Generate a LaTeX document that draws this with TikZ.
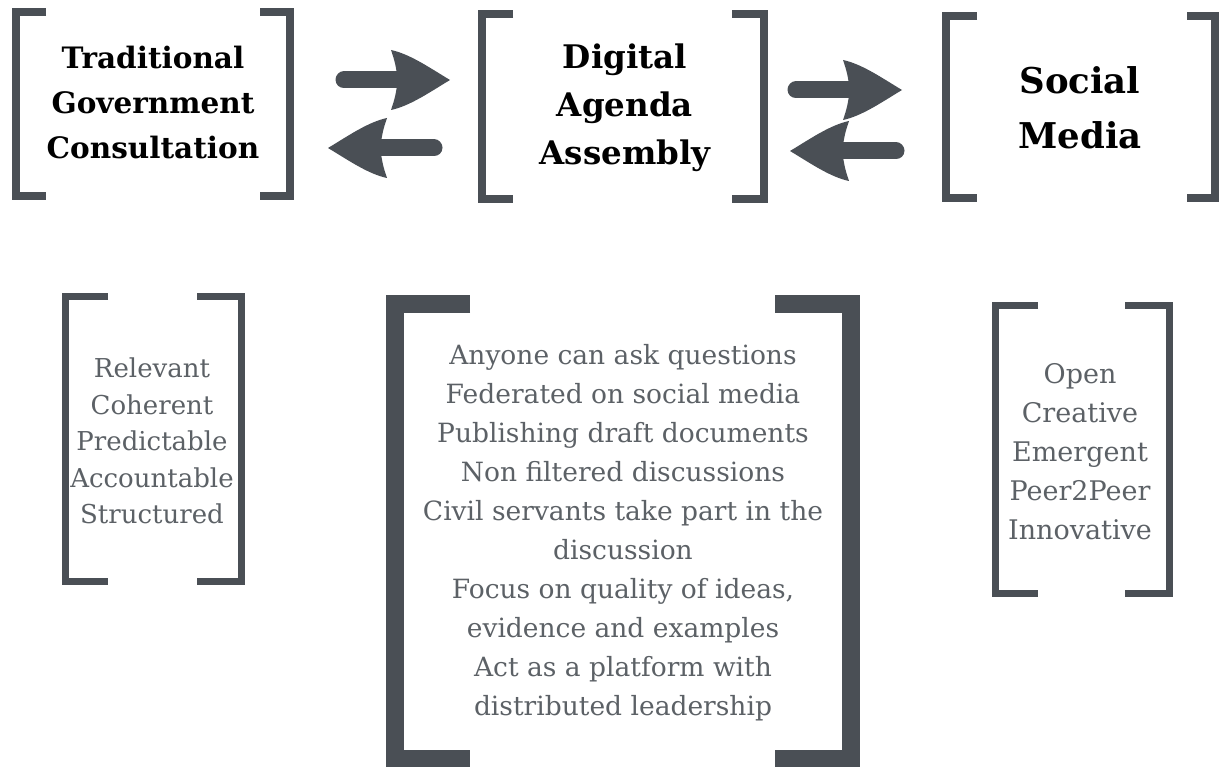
\documentclass[tikz,border=0pt]{standalone}
\usepackage{fontspec}
\setmainfont{DejaVu Serif}
\definecolor{slate}{HTML}{4A4F55}
\definecolor{greytext}{HTML}{5C6166}
\tikzset{
  fat arrow/.pic={
    \draw[line width=17pt,line cap=round,slate] (-106,0) -- (-50,0);
    \fill[slate] (0,0) .. controls (-20,-12) and (-40,-26) .. (-59,-30)
      .. controls (-55,-18) .. (-52,0) .. controls (-55,18) .. (-59,30)
      .. controls (-40,26) and (-20,12) .. (0,0) -- cycle;
  }
}
\begin{document}
\begin{tikzpicture}[x=1pt,y=-1pt]
  \tikzstyle{heading}=[align=center,text=black,font=\bfseries\fontsize{29.5}{45}\selectfont]
  \tikzstyle{features}=[align=center,text=greytext,font=\fontsize{26.5}{39}\selectfont]
  \tikzstyle{bracket}=[draw=slate,line width=8pt]
  \useasboundingbox (0,0) rectangle (1219,767);

  % top row
  \node [heading] (trad) at (153,103) {Traditional\\Government\\Consultation};
  \node [heading,font=\bfseries\fontsize{32.5}{48}\selectfont] (dae) at (625,108) {Digital\\Agenda\\Assembly};
  \node [heading,font=\bfseries\fontsize{35.5}{55}\selectfont] (social) at (1080,108) {Social\\Media};

  \path[bracket] (46,12) -- (16,12) -- (16,196) -- (46,196);
  \path[bracket] (260,12) -- (290,12) -- (290,196) -- (260,196);
  \path[bracket] (513,14) -- (482,14) -- (482,199) -- (513,199);
  \path[bracket] (732,14) -- (764,14) -- (764,199) -- (732,199);
  \path[bracket] (977,16) -- (946,16) -- (946,198) -- (977,198);
  \path[bracket] (1187,16) -- (1215,16) -- (1215,198) -- (1187,198);

  \pic at (450,80) {fat arrow};
  \pic [rotate=180] at (328,148) {fat arrow};
  \pic at (902,90) {fat arrow};
  \pic [rotate=180] at (790,151) {fat arrow};

  % bottom row
  \node [features,font=\fontsize{26}{36.5}\selectfont] (tradfeat) at (152,441)
    {Relevant\\Coherent\\Predictable\\Accountable\\Structured};
  \node [features] (daefeat) at (623,533)
    {Anyone can ask questions\\Federated on social media\\Publishing draft documents\\
     Non filtered discussions\\Civil servants take part in the\\discussion\\
     Focus on quality of ideas,\\evidence and examples\\Act as a platform with\\distributed leadership};
  \node [features,font=\fontsize{27}{39}\selectfont] (socialfeat) at (1080,452)
    {Open\\Creative\\Emergent\\Peer2Peer\\Innovative};

  \path[bracket,line width=7pt] (108,296.5) -- (65.5,296.5) -- (65.5,581.5) -- (108,581.5);
  \path[bracket,line width=7pt] (197,296.5) -- (241.5,296.5) -- (241.5,581.5) -- (197,581.5);
  \path[bracket,line width=18pt] (470,304) -- (395,304) -- (395,759) -- (470,759);
  \path[bracket,line width=18pt] (775,304) -- (851,304) -- (851,759) -- (775,759);
  \path[bracket,line width=7pt] (1038,305.5) -- (995.5,305.5) -- (995.5,593.5) -- (1038,593.5);
  \path[bracket,line width=7pt] (1125,305.5) -- (1169.5,305.5) -- (1169.5,593.5) -- (1125,593.5);
\end{tikzpicture}
\end{document}
